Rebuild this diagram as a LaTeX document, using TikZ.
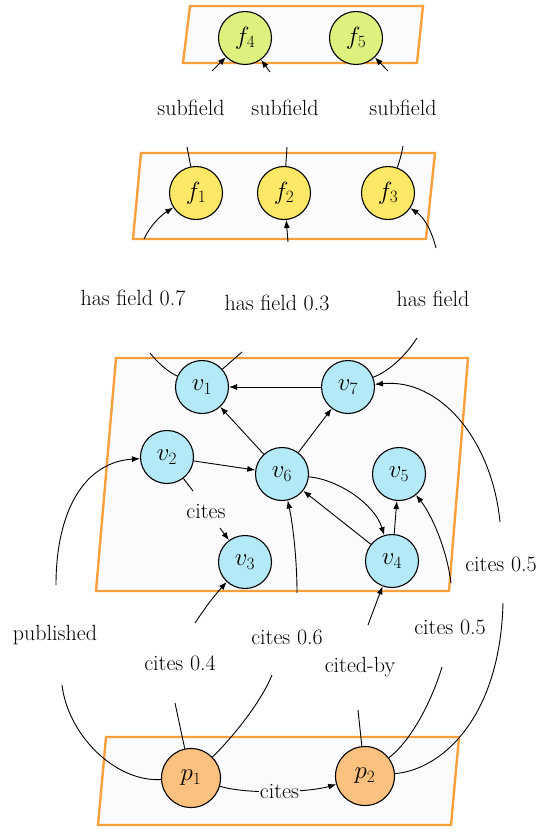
\documentclass[tikz,border=0pt]{standalone}
\usetikzlibrary{arrows.meta}
\definecolor{pborder}{HTML}{F9A03C}
\definecolor{pfill}{HTML}{FBFBFE}
\definecolor{fgreen}{HTML}{DDF27E}
\definecolor{fyellow}{HTML}{FFE866}
\definecolor{vcyan}{HTML}{B4E9F7}
\definecolor{porange}{HTML}{FCC07F}
\tikzset{
  plane/.style={draw=pborder, fill=pfill, line width=2.4pt},
  gnode/.style={circle, draw=black, line width=1.1pt, minimum size=53pt, inner sep=0pt, font=\fontsize{27}{30}\selectfont},
  pnode/.style={gnode, minimum size=59pt},
  lbl/.style={font=\fontsize{22}{26}\selectfont, inner sep=1pt},
  con/.style={draw=black, line width=0.9pt},
  arr/.style={-{Latex[length=8pt,width=6pt]}}
}
\begin{document}
\begin{tikzpicture}[x=1pt,y=-1pt]
\useasboundingbox (0,0) rectangle (546,832);
% planes
\draw[plane] (190,6) -- (423,6) -- (417,63) -- (183,63) -- cycle;
\draw[plane] (141,153) -- (435,153) -- (426,239) -- (133,239) -- cycle;
\draw[plane] (116,358) -- (468,358) -- (449,591) -- (96,591) -- cycle;
\draw[plane] (106,737) -- (459,737) -- (451,825) -- (98,825) -- cycle;
% nodes
\node[gnode, fill=fgreen] (f4) at (245,38) {$f_4$};
\node[gnode, fill=fgreen] (f5) at (356,38) {$f_5$};
\node[gnode, fill=fyellow] (f1) at (196,193) {$f_1$};
\node[gnode, fill=fyellow] (f2) at (284,193) {$f_2$};
\node[gnode, fill=fyellow] (f3) at (388,193) {$f_3$};
\node[gnode, fill=vcyan] (v1) at (202,387) {$v_1$};
\node[gnode, fill=vcyan] (v7) at (348,387) {$v_7$};
\node[gnode, fill=vcyan] (v2) at (167,457) {$v_2$};
\node[gnode, fill=vcyan] (v6) at (282,474) {$v_6$};
\node[gnode, fill=vcyan] (v5) at (399,474) {$v_5$};
\node[gnode, fill=vcyan] (v3) at (245,562) {$v_3$};
\node[gnode, fill=vcyan] (v4) at (392,561) {$v_4$};
\node[pnode, fill=porange] (p1) at (191,778) {$p_1$};
\node[pnode, fill=porange] (p2) at (365,776) {$p_2$};
% labels
\node[lbl] (l1) at (191,108) {subfield};
\node[lbl] (l2) at (285,108) {subfield};
\node[lbl] (l3) at (403,108) {subfield};
\node[lbl] (l4) at (133,298) {has field 0.7};
\node[lbl] (l5) at (277,303) {has field 0.3};
\node[lbl] (l6) at (433,299) {has field};
\node[lbl] (l11) at (206,511) {cites};
\node[lbl] (l15) at (450,627) {cites 0.5};
\node[lbl] (l16) at (501,564) {cites 0.5};
\node[lbl] (l17) at (55,635) {published};
\node[lbl] (l18) at (180,663) {cites 0.4};
\node[lbl] (l19) at (287,637) {cites 0.6};
\node[lbl] (l20) at (360,667) {cited-by};
% gap coordinates
\coordinate (a1) at (187,147); \coordinate (b1) at (212,71);
\coordinate (a2) at (287,147); \coordinate (b2) at (270,72);
\coordinate (a3) at (403,146); \coordinate (b3) at (388,71);
\coordinate (a4) at (150,353); \coordinate (b4) at (144,239);
\coordinate (a5) at (242,352); \coordinate (b5) at (288,242);
\coordinate (a6) at (417,338); \coordinate (b6) at (436,248);
\coordinate (a11) at (193,491); \coordinate (b11) at (220,528);
\coordinate (a15) at (442,667); \coordinate (b15) at (451,583);
\coordinate (a16) at (503,603); \coordinate (b16) at (500,522);
\coordinate (a17) at (62,685); \coordinate (b17) at (56,585);
\coordinate (a18) at (175,703); \coordinate (b18) at (195,623);
\coordinate (a19) at (272,675); \coordinate (b19) at (297,593);
\coordinate (a20) at (358,710); \coordinate (b20) at (368,625);
% subfield edges
\draw[con] (f1) -- (a1);
\draw[con,arr] (b1) -- (f4);
\draw[con] (f2) -- (a2);
\draw[con,arr] (b2) -- (f4);
\draw[con] (f3) .. controls (400,160) and (402,152) .. (a3);
\draw[con,arr] (b3) -- (f5);
% has field edges
\draw[con] (v1) .. controls (168,372) and (157,362) .. (a4);
\draw[con,arr] (b4) .. controls (150,226) and (160,216) .. (f1);
\draw[con] (v1) -- (a5);
\draw[con,arr] (b5) -- (f2);
\draw[con] (v7) .. controls (392,370) and (408,352) .. (a6);
\draw[con,arr] (b6) .. controls (432,232) and (425,218) .. (f3);
% v-plane edges
\draw[con,arr] (v7) -- (v1);
\draw[con,arr] (v6) -- (v1);
\draw[con,arr] (v6) -- (v7);
\draw[con,arr] (v2) -- (v6);
\draw[con] (v2) -- (a11);
\draw[con,arr] (b11) -- (v3);
\draw[con,arr] (v6) .. controls (340,480) and (375,505) .. (v4);
\draw[con,arr] (v4) -- (v6);
\draw[con,arr] (v4) -- (v5);
% paper edges
\draw[con] (p2) .. controls (412,740) and (432,700) .. (a15);
\draw[con,arr] (b15) .. controls (447,550) and (432,515) .. (v5);
\draw[con] (p2) .. controls (440,770) and (500,720) .. (a16);
\draw[con,arr] (b16) .. controls (492,440) and (440,378) .. (v7);
\draw[con] (p1) .. controls (115,782) and (68,735) .. (a17);
\draw[con,arr] (b17) .. controls (56,510) and (85,462) .. (v2);
\draw[con] (p1) -- (a18);
\draw[con,arr] (b18) .. controls (205,608) and (213,597) .. (v3);
\draw[con] (p1) .. controls (235,735) and (262,700) .. (a19);
\draw[con,arr] (b19) .. controls (297,560) and (293,525) .. (v6);
\draw[con] (p2) -- (a20);
\draw[con,arr] (b20) -- (v4);
\draw[con,arr] (p1) .. controls (250,795) and (310,792) .. node[lbl, fill=pfill] (l21) {cites} (p2);
\end{tikzpicture}
\end{document}
